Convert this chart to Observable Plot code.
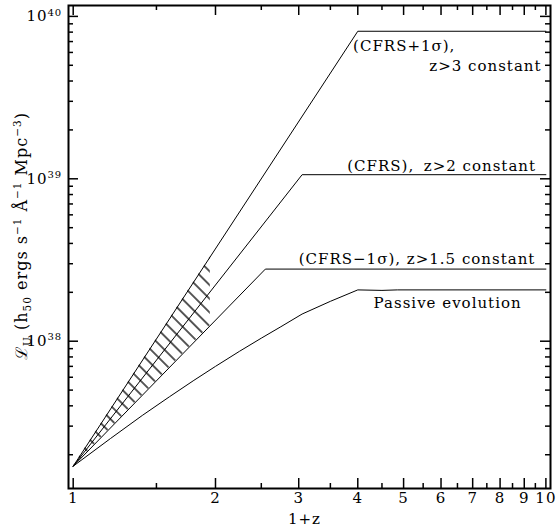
<!DOCTYPE html>
<html>
<head>
<meta charset="utf-8">
<script src="https://cdn.jsdelivr.net/npm/d3@7"></script>
<script src="https://cdn.jsdelivr.net/npm/@observablehq/plot@0.6"></script>
<style>
  html, body { margin: 0; padding: 0; background: #fff; }
  #chart svg { display: block; }
  #chart svg text { letter-spacing: 1px; }
</style>
</head>
<body>
<div id="chart"></div>
<script>
// U-band luminosity density models versus 1+z (log-log)

// CFRS + 1 sigma, constant beyond z = 3
const xPlusSigma = [1, 4, 10];
const lPlusSigma = [1.7e37, 8.1e39, 8.1e39];

// CFRS, constant beyond z = 2
const xCfrs = [1, 3.05, 10];
const lCfrs = [1.7e37, 1.06e39, 1.06e39];

// CFRS - 1 sigma, constant beyond z = 1.5
const xMinusSigma = [1, 2.55, 10];
const lMinusSigma = [1.7e37, 2.78e38, 2.78e38];

// passive evolution
const xPassive = [1, 1.2, 1.4, 1.6, 1.8, 2, 2.25, 2.5, 2.75, 3.05, 3.5, 4, 4.5, 4.85, 10];
const lPassive = [1.7e37, 2.52e37, 3.49e37, 4.56e37, 5.74e37, 7.0e37, 8.68e37, 1.044e38,
                  1.228e38, 1.47e38, 1.76e38, 2.07e38, 2.055e38, 2.07e38, 2.07e38];

// hatched band between the +1 sigma and -1 sigma models
const hatchX = [1, 1.95];
const hatchUpper = [1.7e37, 3.31e38];
const hatchLower = [1.7e37, 1.25e38];

// ticks
const xMajorTicks = [1, 2, 3, 4, 5, 6, 7, 8, 9, 10];
const xMinorTicks = [1.5, 2.5, 3.5, 4.5, 5.5, 6.5, 7.5, 8.5, 9.5];
const yMajorTicks = [1e38, 1e39, 1e40];
const yMinorTicks = [2e37, 3e37, 4e37, 5e37, 6e37, 7e37, 8e37, 9e37,
                     2e38, 3e38, 4e38, 5e38, 6e38, 7e38, 8e38, 9e38,
                     2e39, 3e39, 4e39, 5e39, 6e39, 7e39, 8e39, 9e39];
const xTickLabels = ["1", "2", "3", "4", "5", "6", "7", "8", "9", "10"];
const yTickBase = ["10", "10", "10"];
const yTickExponent = ["38", "39", "40"];

// layout
const W = 556, H = 531;
const mLeft = 68, mRight = 6, mTop = 5, mBottom = 43;
const innerW = W - mLeft - mRight, innerH = H - mTop - mBottom;
const FONT = "DejaVu Serif";

const series = [
  ...xPlusSigma.map((x, i) => ({x, y: lPlusSigma[i], s: "plus"})),
  ...xCfrs.map((x, i) => ({x, y: lCfrs[i], s: "cfrs"})),
  ...xMinusSigma.map((x, i) => ({x, y: lMinusSigma[i], s: "minus"})),
  ...xPassive.map((x, i) => ({x, y: lPassive[i], s: "passive"}))
];
const hatch = hatchX.map((x, i) => ({x, lo: hatchLower[i], hi: hatchUpper[i]}));

// model annotations, placed against each plateau
const labels = [
  {t: "(CFRS+1\u03c3),", x: 3.91, y: lPlusSigma[1], dy: 15, a: "start"},
  {t: "z>3 constant", x: 9.79, y: lPlusSigma[1], dy: 35, a: "end"},
  {t: "(CFRS),", x: 3.80, y: lCfrs[1], dy: -8.5, a: "start"},
  {t: "z>2 constant", x: 9.53, y: lCfrs[1], dy: -8.5, a: "end"},
  {t: "(CFRS\u22121\u03c3),", x: 3.0, y: lMinusSigma[1], dy: -9.5, a: "start"},
  {t: "z>1.5 constant", x: 9.5, y: lMinusSigma[1], dy: -9.5, a: "end"},
  {t: "Passive evolution", x: 4.32, y: lPassive[11], dy: 13, a: "start"}
];
const labelMarks = labels.map(d =>
  Plot.text([d], {x: "x", y: "y", text: "t", dy: d.dy, textAnchor: d.a, fontSize: 15, fill: "#000"})
);

const plot = Plot.plot({
  width: W, height: H,
  marginLeft: mLeft, marginRight: mRight, marginTop: mTop, marginBottom: mBottom,
  style: {fontFamily: FONT, fontSize: "15px", background: "#fff", color: "#000"},
  x: {type: "log", domain: [0.9774, 10.227], axis: null},
  y: {type: "log", domain: [1.239e37, 1.167e40], axis: null},
  marks: [
    Plot.areaY(hatch, {x: "x", y1: "lo", y2: "hi", fill: "url(#hatch45)"}),
    Plot.line(series, {x: "x", y: "y", z: "s", stroke: "#000", strokeWidth: 1}),

    // ticks on all four sides, pointing inward
    Plot.ruleX(xMajorTicks, {x: d => d, insetTop: innerH - 10, stroke: "#000", strokeWidth: 1.5}),
    Plot.ruleX(xMinorTicks, {x: d => d, insetTop: innerH - 5, stroke: "#000", strokeWidth: 1.5}),
    Plot.ruleX(xMajorTicks, {x: d => d, insetBottom: innerH - 10, stroke: "#000", strokeWidth: 1.5}),
    Plot.ruleX(xMinorTicks, {x: d => d, insetBottom: innerH - 5, stroke: "#000", strokeWidth: 1.5}),
    Plot.ruleY(yMajorTicks, {y: d => d, insetRight: innerW - 10, stroke: "#000", strokeWidth: 1.5}),
    Plot.ruleY(yMinorTicks, {y: d => d, insetRight: innerW - 5, stroke: "#000", strokeWidth: 1.5}),
    Plot.ruleY(yMajorTicks, {y: d => d, insetLeft: innerW - 10, stroke: "#000", strokeWidth: 1.5}),
    Plot.ruleY(yMinorTicks, {y: d => d, insetLeft: innerW - 5, stroke: "#000", strokeWidth: 1.5}),
    Plot.frame({stroke: "#000", strokeWidth: 2}),

    // tick labels
    Plot.text(xMajorTicks, {x: d => d, frameAnchor: "bottom", dy: 14, text: (d, i) => xTickLabels[i], fontSize: 15, fill: "#000"}),
    Plot.text(yMajorTicks, {y: d => d, frameAnchor: "left", dx: -21, textAnchor: "end", text: (d, i) => yTickBase[i], fontSize: 15, fill: "#000"}),
    Plot.text(yMajorTicks, {y: d => d, frameAnchor: "left", dx: -21, dy: -4, textAnchor: "start", text: (d, i) => yTickExponent[i], fontSize: 10, fill: "#000"}),
    Plot.text(["1+z"], {frameAnchor: "bottom", dy: 35, dx: -5, text: d => d, fontSize: 15, fill: "#000"}),

    ...labelMarks
  ]
});

document.getElementById("chart").appendChild(plot);

const svg = d3.select(plot);

// hatch pattern used by the shaded band
const defs = svg.insert("defs", ":first-child");
const pat = defs.append("pattern")
  .attr("id", "hatch45")
  .attr("patternUnits", "userSpaceOnUse")
  .attr("width", 9.7).attr("height", 10)
  .attr("patternTransform", "rotate(-45)");
pat.append("line")
  .attr("x1", 4.85).attr("x2", 4.85).attr("y1", -1).attr("y2", 11)
  .attr("stroke", "#000").attr("stroke-width", 1.3);

// rotated y-axis title with sub- and superscripts
const yTitle = svg.append("text")
  .attr("transform", "translate(27,236) rotate(-90)")
  .attr("text-anchor", "middle")
  .attr("font-family", FONT)
  .attr("font-size", 16)
  .attr("fill", "#000");
const parts = [
  ["\u2112", 0], ["U", 1], [" (h", 0], ["50", 1], [" ergs s", 0], ["\u22121", 2],
  [" \u00c5", 0], ["\u22121", 2], [" Mpc", 0], ["\u22123", 2], [")", 0]
];
let shift = 0;
for (const [t, kind] of parts) {
  const target = kind === 1 ? 4 : kind === 2 ? -6 : 0;
  yTitle.append("tspan")
    .attr("dy", target - shift)
    .attr("font-size", kind ? 10.5 : 16)
    .text(t);
  shift = target;
}
</script>
</body>
</html>
